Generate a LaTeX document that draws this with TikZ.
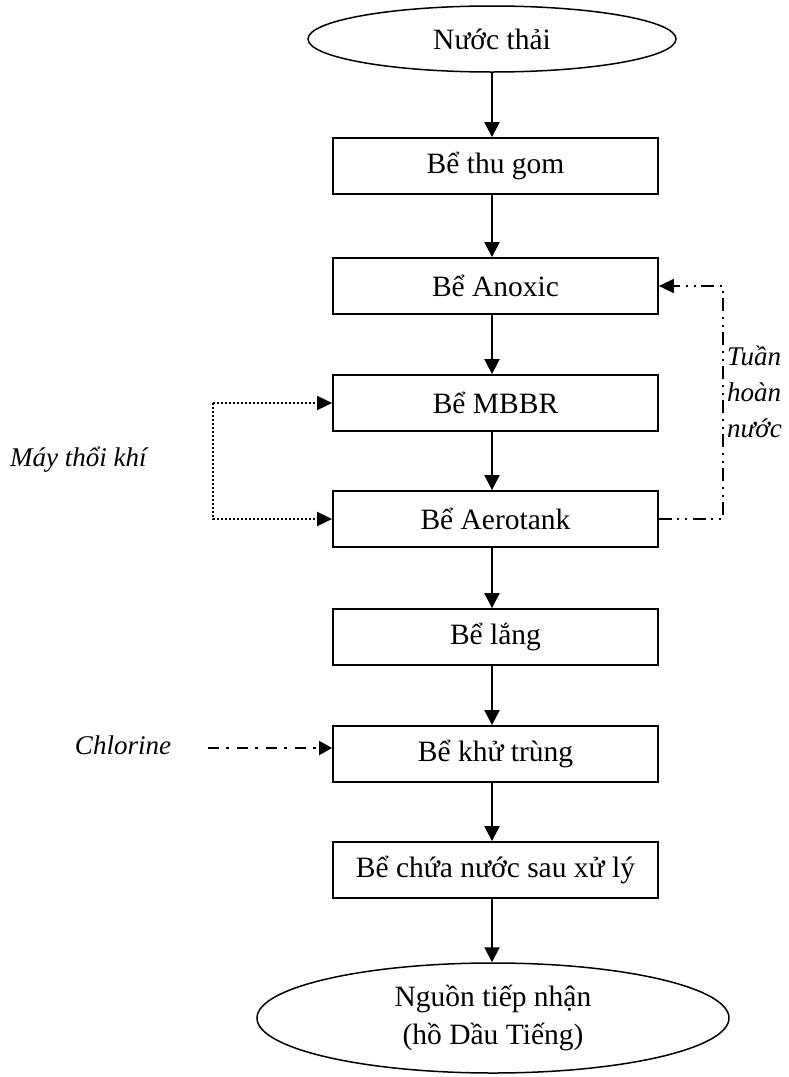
\documentclass[tikz,border=0pt]{standalone}
\usepackage{fontspec}
\setmainfont{Liberation Serif}
\usetikzlibrary{arrows.meta,shapes.geometric}
\begin{document}
\begin{tikzpicture}[x=1pt,y=-1pt,
  font=\fontsize{29.5}{38}\selectfont,
  tank/.style={draw,line width=1.8pt,minimum width=325pt,minimum height=56pt,inner sep=0pt},
  terminal/.style={draw,ellipse,line width=1.5pt,inner sep=0pt,align=center},
  flow/.style={line width=2pt,-{Triangle[width=15pt,length=15pt]}},
  air/.style={line width=1.9pt,dash pattern=on 2pt off 2pt,-{Triangle[width=14pt,length=15pt]}},
  dose/.style={line width=1.9pt,dash pattern=on 11pt off 7pt on 3pt off 8pt,-{Triangle[width=14pt,length=13pt]}},
  recycle/.style={line width=1.5pt,dash pattern=on 13pt off 5pt on 2pt off 6pt on 2pt off 6pt,-{Triangle[width=14pt,length=15pt]}},
  note/.style={font=\fontsize{27}{36}\selectfont\itshape,inner sep=0pt}]
\useasboundingbox (0,0) rectangle (788,1077);

% treatment line
\node[terminal,minimum width=368pt,minimum height=66pt] (src) at (492,39) {Nước thải};
\node[tank] (collect) at (495.5,166) {Bể thu gom};
\node[tank] (anoxic)  at (495.5,286) {Bể Anoxic};
\node[tank] (mbbr)    at (495.5,403) {Bể MBBR};
\node[tank] (aero)    at (495.5,519) {Bể Aerotank};
\node[tank] (settle)  at (495.5,637) {Bể lắng};
\node[tank] (disinf)  at (495.5,754) {Bể khử trùng};
\node[tank] (store)   at (495.5,870) {Bể chứa nước sau xử lý};
\node[terminal,minimum width=472pt,minimum height=110pt] (sink) at (493,1018)
  {Nguồn tiếp nhận\\(hồ Dầu Tiếng)};

\draw[flow] (src.south -| 492,0) -- (collect.north -| 492,0);
\draw[flow] (collect.south -| 492,0) -- (anoxic.north -| 492,0);
\draw[flow] (anoxic.south -| 492,0) -- (mbbr.north -| 492,0);
\draw[flow] (mbbr.south -| 492,0) -- (aero.north -| 492,0);
\draw[flow] (aero.south -| 492,0) -- (settle.north -| 492,0);
\draw[flow] (settle.south -| 492,0) -- (disinf.north -| 492,0);
\draw[flow] (disinf.south -| 492,0) -- (store.north -| 492,0);
\draw[flow] (store.south -| 492,0) -- (sink.north -| 492,0);

% aeration supply
\coordinate (blow) at (213,403);
\node[note,anchor=base west] (blower) at (10,466) {Máy thổi khí};
\draw[air] (blow) -- (mbbr.west);
\draw[air] (blow) |- (aero.west);

% chlorine dosing
\node[note] (cl) at (123,745) {Chlorine};
\coordinate (clstart) at (208,748);
\draw[dose] (clstart) -- (disinf.west |- clstart);

% internal recirculation
\coordinate (rcx) at (723,0);
\draw[recycle] (aero.east) -- (aero.east -| rcx) -- (anoxic.east -| rcx) -- (anoxic.east);
\node[note,anchor=north west,align=left] (rclabel) at (727,346) {Tuần\\hoàn\\nước};
\end{tikzpicture}
\end{document}
